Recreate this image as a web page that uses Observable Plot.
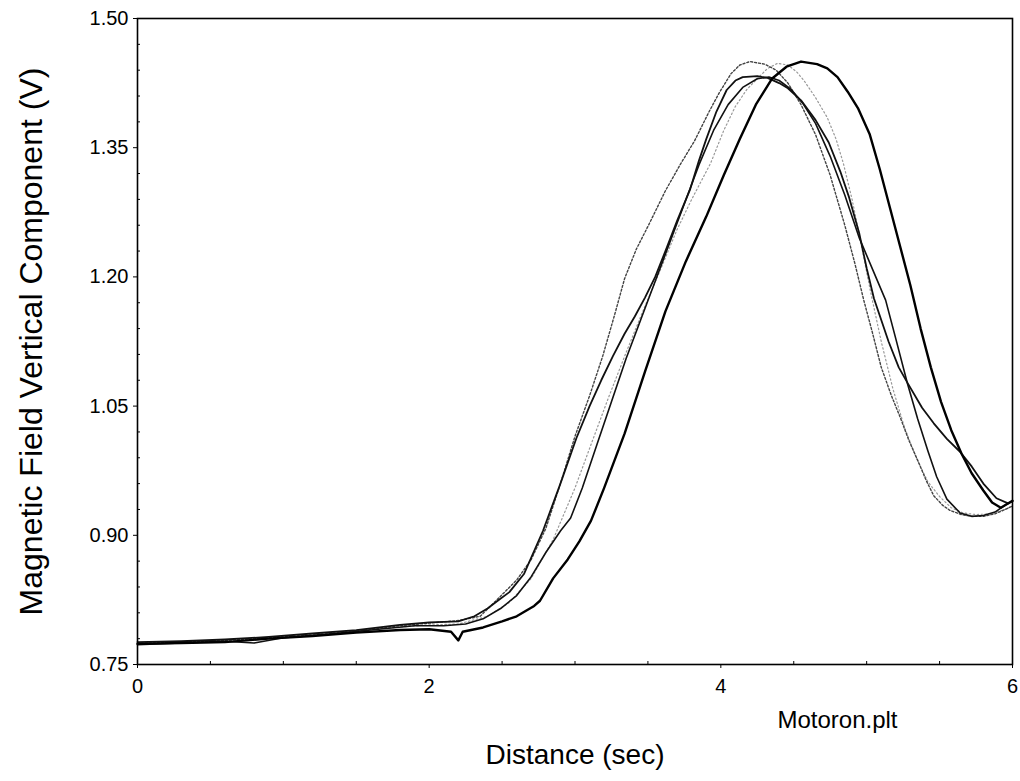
<!DOCTYPE html>
<html><head><meta charset="utf-8">
<script src="https://cdn.jsdelivr.net/npm/d3@7"></script>
<script src="https://cdn.jsdelivr.net/npm/@observablehq/plot@0.6"></script>
<style>body{margin:0;background:#fff;} #chart svg{display:block}</style>
</head><body><div id="chart"></div>
<script>
const xTicks = [0, 2, 4, 6];
const yTicks = [0.75, 0.90, 1.05, 1.20, 1.35, 1.50];
const xMinor = [0.5, 1, 1.5, 2.5, 3, 3.5, 4.5, 5, 5.5];
const yMinor = [0.78, 0.81, 0.84, 0.87, 0.93, 0.96, 0.99, 1.02, 1.08, 1.11, 1.14, 1.17, 1.23, 1.26, 1.29, 1.32, 1.38, 1.41, 1.44, 1.47];
const xLabel = "Distance (sec)";
const yLabel = "Magnetic Field Vertical Component (V)";
const fileLabel = "Motoron.plt";

// dotted trace, earliest
const seriesA = [[0,0.774],[0.3,0.776],[0.6,0.778],[0.9,0.781],[1.2,0.784],[1.5,0.789],[1.8,0.795],[2.0,0.798],[2.2,0.801],[2.35,0.806],[2.47,0.826],[2.6,0.848],[2.7,0.872],[2.8,0.908],[2.9,0.960],[3.0,1.015],[3.1,1.062],[3.19,1.108],[3.27,1.155],[3.34,1.198],[3.42,1.232],[3.51,1.262],[3.62,1.300],[3.72,1.330],[3.82,1.358],[3.92,1.392],[3.99,1.414],[4.07,1.436],[4.13,1.446],[4.2,1.450],[4.3,1.447],[4.38,1.440],[4.46,1.425],[4.55,1.400],[4.65,1.365],[4.75,1.318],[4.85,1.260],[4.92,1.215],[4.98,1.173],[5.04,1.135],[5.10,1.095],[5.17,1.062],[5.23,1.037],[5.29,1.010],[5.35,0.987],[5.41,0.963],[5.46,0.946],[5.52,0.935],[5.57,0.929],[5.65,0.924],[5.72,0.922],[5.8,0.922],[5.88,0.925],[5.95,0.930],[6.0,0.934]];
// solid trace with kink on the falling side
const seriesB = [[0,0.776],[0.3,0.777],[0.6,0.779],[0.9,0.782],[1.2,0.786],[1.5,0.790],[1.8,0.796],[2.0,0.799],[2.2,0.800],[2.31,0.806],[2.4,0.815],[2.47,0.824],[2.55,0.834],[2.65,0.855],[2.78,0.905],[2.9,0.960],[3.01,1.013],[3.1,1.050],[3.18,1.080],[3.26,1.108],[3.34,1.134],[3.41,1.154],[3.48,1.176],[3.55,1.200],[3.62,1.230],[3.70,1.265],[3.79,1.302],[3.85,1.335],[3.90,1.360],[3.97,1.392],[4.04,1.417],[4.10,1.428],[4.15,1.432],[4.25,1.433],[4.32,1.431],[4.40,1.425],[4.46,1.419],[4.55,1.405],[4.65,1.382],[4.74,1.356],[4.82,1.322],[4.88,1.292],[4.95,1.250],[5.0,1.210],[5.05,1.175],[5.15,1.125],[5.22,1.095],[5.28,1.077],[5.38,1.048],[5.46,1.030],[5.55,1.012],[5.64,0.997],[5.72,0.980],[5.80,0.960],[5.89,0.943],[5.97,0.937]];
// light dotted trace
const seriesC = [[0,0.775],[0.4,0.776],[0.8,0.780],[1.2,0.785],[1.6,0.791],[2.0,0.796],[2.2,0.797],[2.4,0.806],[2.55,0.822],[2.7,0.850],[2.85,0.895],[3.0,0.955],[3.12,1.010],[3.23,1.060],[3.35,1.112],[3.46,1.158],[3.59,1.210],[3.7,1.255],[3.8,1.290],[3.93,1.332],[4.02,1.370],[4.1,1.398],[4.18,1.418],[4.25,1.430],[4.32,1.442],[4.39,1.448],[4.46,1.446],[4.52,1.438],[4.57,1.428],[4.65,1.408],[4.73,1.385],[4.79,1.360],[4.84,1.332],[4.90,1.290],[4.96,1.240],[5.03,1.180],[5.1,1.125],[5.18,1.070],[5.26,1.025],[5.34,0.990],[5.42,0.962],[5.5,0.945],[5.58,0.932],[5.66,0.926],[5.75,0.924],[5.85,0.925],[5.95,0.930],[6.0,0.934]];
// solid trace reaching the minimum
const seriesS = [[0,0.773],[0.3,0.775],[0.6,0.777],[0.8,0.775],[1.0,0.781],[1.3,0.785],[1.6,0.790],[1.9,0.795],[2.1,0.795],[2.25,0.797],[2.37,0.803],[2.49,0.815],[2.6,0.830],[2.7,0.852],[2.8,0.880],[2.9,0.905],[2.97,0.920],[3.05,0.955],[3.15,1.005],[3.25,1.055],[3.35,1.105],[3.45,1.150],[3.55,1.195],[3.65,1.240],[3.75,1.285],[3.85,1.330],[3.95,1.370],[4.05,1.400],[4.15,1.420],[4.25,1.430],[4.33,1.432],[4.40,1.428],[4.48,1.418],[4.56,1.402],[4.65,1.378],[4.75,1.340],[4.85,1.295],[4.95,1.245],[5.05,1.205],[5.13,1.173],[5.2,1.128],[5.28,1.076],[5.35,1.035],[5.42,0.998],[5.48,0.968],[5.55,0.942],[5.64,0.926],[5.72,0.922],[5.8,0.923],[5.88,0.927],[5.95,0.935],[6.0,0.940]];
// heavy solid trace, latest
const seriesD = [[0,0.774],[0.3,0.775],[0.6,0.776],[0.9,0.780],[1.2,0.783],[1.5,0.787],[1.8,0.790],[2.0,0.791],[2.15,0.788],[2.2,0.778],[2.23,0.788],[2.37,0.793],[2.5,0.800],[2.6,0.806],[2.67,0.813],[2.72,0.818],[2.76,0.824],[2.85,0.850],[2.95,0.872],[3.03,0.893],[3.11,0.917],[3.2,0.955],[3.34,1.018],[3.48,1.090],[3.62,1.160],[3.76,1.218],[3.90,1.270],[4.02,1.318],[4.13,1.360],[4.24,1.400],[4.35,1.430],[4.45,1.444],[4.55,1.450],[4.66,1.447],[4.73,1.442],[4.80,1.432],[4.87,1.415],[4.94,1.396],[5.02,1.366],[5.09,1.325],[5.16,1.280],[5.23,1.235],[5.30,1.190],[5.37,1.140],[5.44,1.095],[5.51,1.055],[5.58,1.022],[5.65,0.995],[5.72,0.972],[5.80,0.952],[5.86,0.938],[5.92,0.932],[5.96,0.936],[6.0,0.940]];

const rows = (pts) => pts.map(([x, y]) => ({x, y}));

const chart = Plot.plot({
  width: 1020, height: 781,
  marginLeft: 137, marginRight: 8, marginTop: 18, marginBottom: 117,
  style: {fontFamily: "'Liberation Sans', Arial, sans-serif", background: "#fff", color: "#000"},
  x: {domain: [0, 6]},
  y: {domain: [0.75, 1.5]},
  marks: [
    Plot.axisX({ticks: xTicks, tickSize: 4, tickPadding: 10, fontSize: 20, label: null, tickFormat: d => String(d)}),
    Plot.axisY({ticks: yTicks, tickSize: 4, tickPadding: 5, fontSize: 20, label: null, tickFormat: d3.format(".2f")}),
    Plot.axisX({ticks: xMinor, tickSize: -3, text: null, label: null}),
    Plot.axisY({ticks: yMinor, tickSize: -3, text: null, label: null}),
    Plot.line(rows(seriesC), {x: "x", y: "y", stroke: "#999", strokeWidth: 1.2, strokeDasharray: "1.5,2.5"}),
    Plot.line(rows(seriesA), {x: "x", y: "y", stroke: "#444", strokeWidth: 1.4, strokeDasharray: "2,2"}),
    Plot.line(rows(seriesS), {x: "x", y: "y", stroke: "#111", strokeWidth: 1.6}),
    Plot.line(rows(seriesB), {x: "x", y: "y", stroke: "#111", strokeWidth: 1.8}),
    Plot.line(rows(seriesD), {x: "x", y: "y", stroke: "#000", strokeWidth: 2.4}),
    Plot.frame({stroke: "#000", strokeWidth: 1.6}),
    Plot.text([xLabel], {frameAnchor: "bottom", dy: 99, fontSize: 28}),
    Plot.text([fileLabel], {frameAnchor: "bottom-right", dy: 63, dx: -115, textAnchor: "end", fontSize: 24}),
    Plot.text([yLabel], {frameAnchor: "left", dx: -106, rotate: -90, textAnchor: "middle", fontSize: 32})
  ]
});
document.getElementById("chart").appendChild(chart);
</script>
</body></html>
